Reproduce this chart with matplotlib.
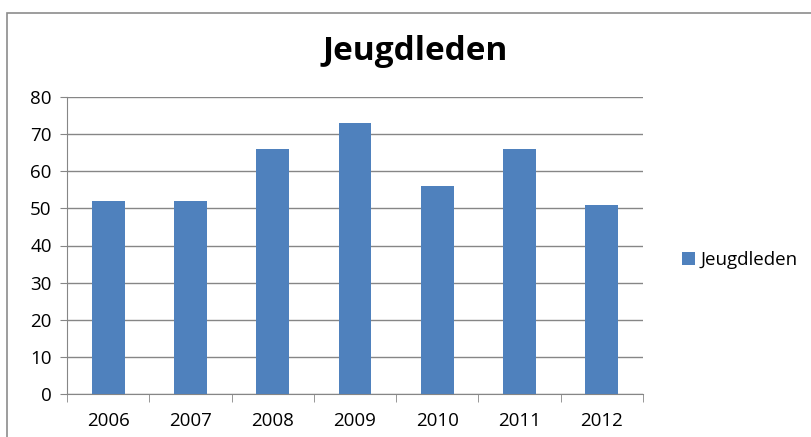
import numpy as np
import matplotlib.pyplot as plt
from matplotlib.patches import Rectangle

years = ['2006', '2007', '2008', '2009', '2010', '2011', '2012']
leden = [52, 52, 66, 73, 56, 66, 51]

plt.rcParams['font.family'] = ['Open Sans', 'DejaVu Sans']

fig = plt.figure(figsize=(8.11, 4.37), dpi=100)
W, H = 811, 437
ax = fig.add_axes([67 / W, 1 - 394 / H, (643 - 67) / W, (394 - 97) / H])

x = np.arange(len(years))
ax.bar(x, leden, width=0.4, color='#4f81bd', label='Jeugdleden', zorder=3)

ax.set_xlim(-0.5, len(years) - 0.5)
ax.set_ylim(0, 80)
ax.set_yticks(range(0, 81, 10))
ax.yaxis.grid(True, color='#868686', linewidth=1.0, zorder=0)
ax.set_xticks(x)
ax.set_xticklabels(years)
ax.set_xticks(np.arange(-0.5, len(years)), minor=True)
ax.tick_params(axis='x', which='major', length=0, labelsize=13.5, pad=13, colors='#000000')
ax.tick_params(axis='x', which='minor', length=6, color='#868686')
ax.tick_params(axis='y', length=5, color='#868686', labelsize=13.5, pad=6)
for s in ['top', 'right']:
    ax.spines[s].set_visible(False)
for s in ['left', 'bottom']:
    ax.spines[s].set_color('#868686')

fig.text((320 + 510) / 2 / W, 1 - 51 / H, 'Jeugdleden', ha='center', va='center',
         fontsize=24, fontweight='bold')

ax.legend(loc='center left', bbox_to_anchor=(665 / W, 1 - 260 / H), bbox_transform=fig.transFigure,
          frameon=False, fontsize=13.5, handlelength=0.7, handleheight=0.7, handletextpad=0.3)

fig.patches.append(Rectangle((7 / W, -0.1), 1.2, 1 - 13 / H + 0.1, transform=fig.transFigure,
                             fill=False, edgecolor='#8c8c8c', linewidth=1.2))

fig.savefig('out.png', dpi=100)
